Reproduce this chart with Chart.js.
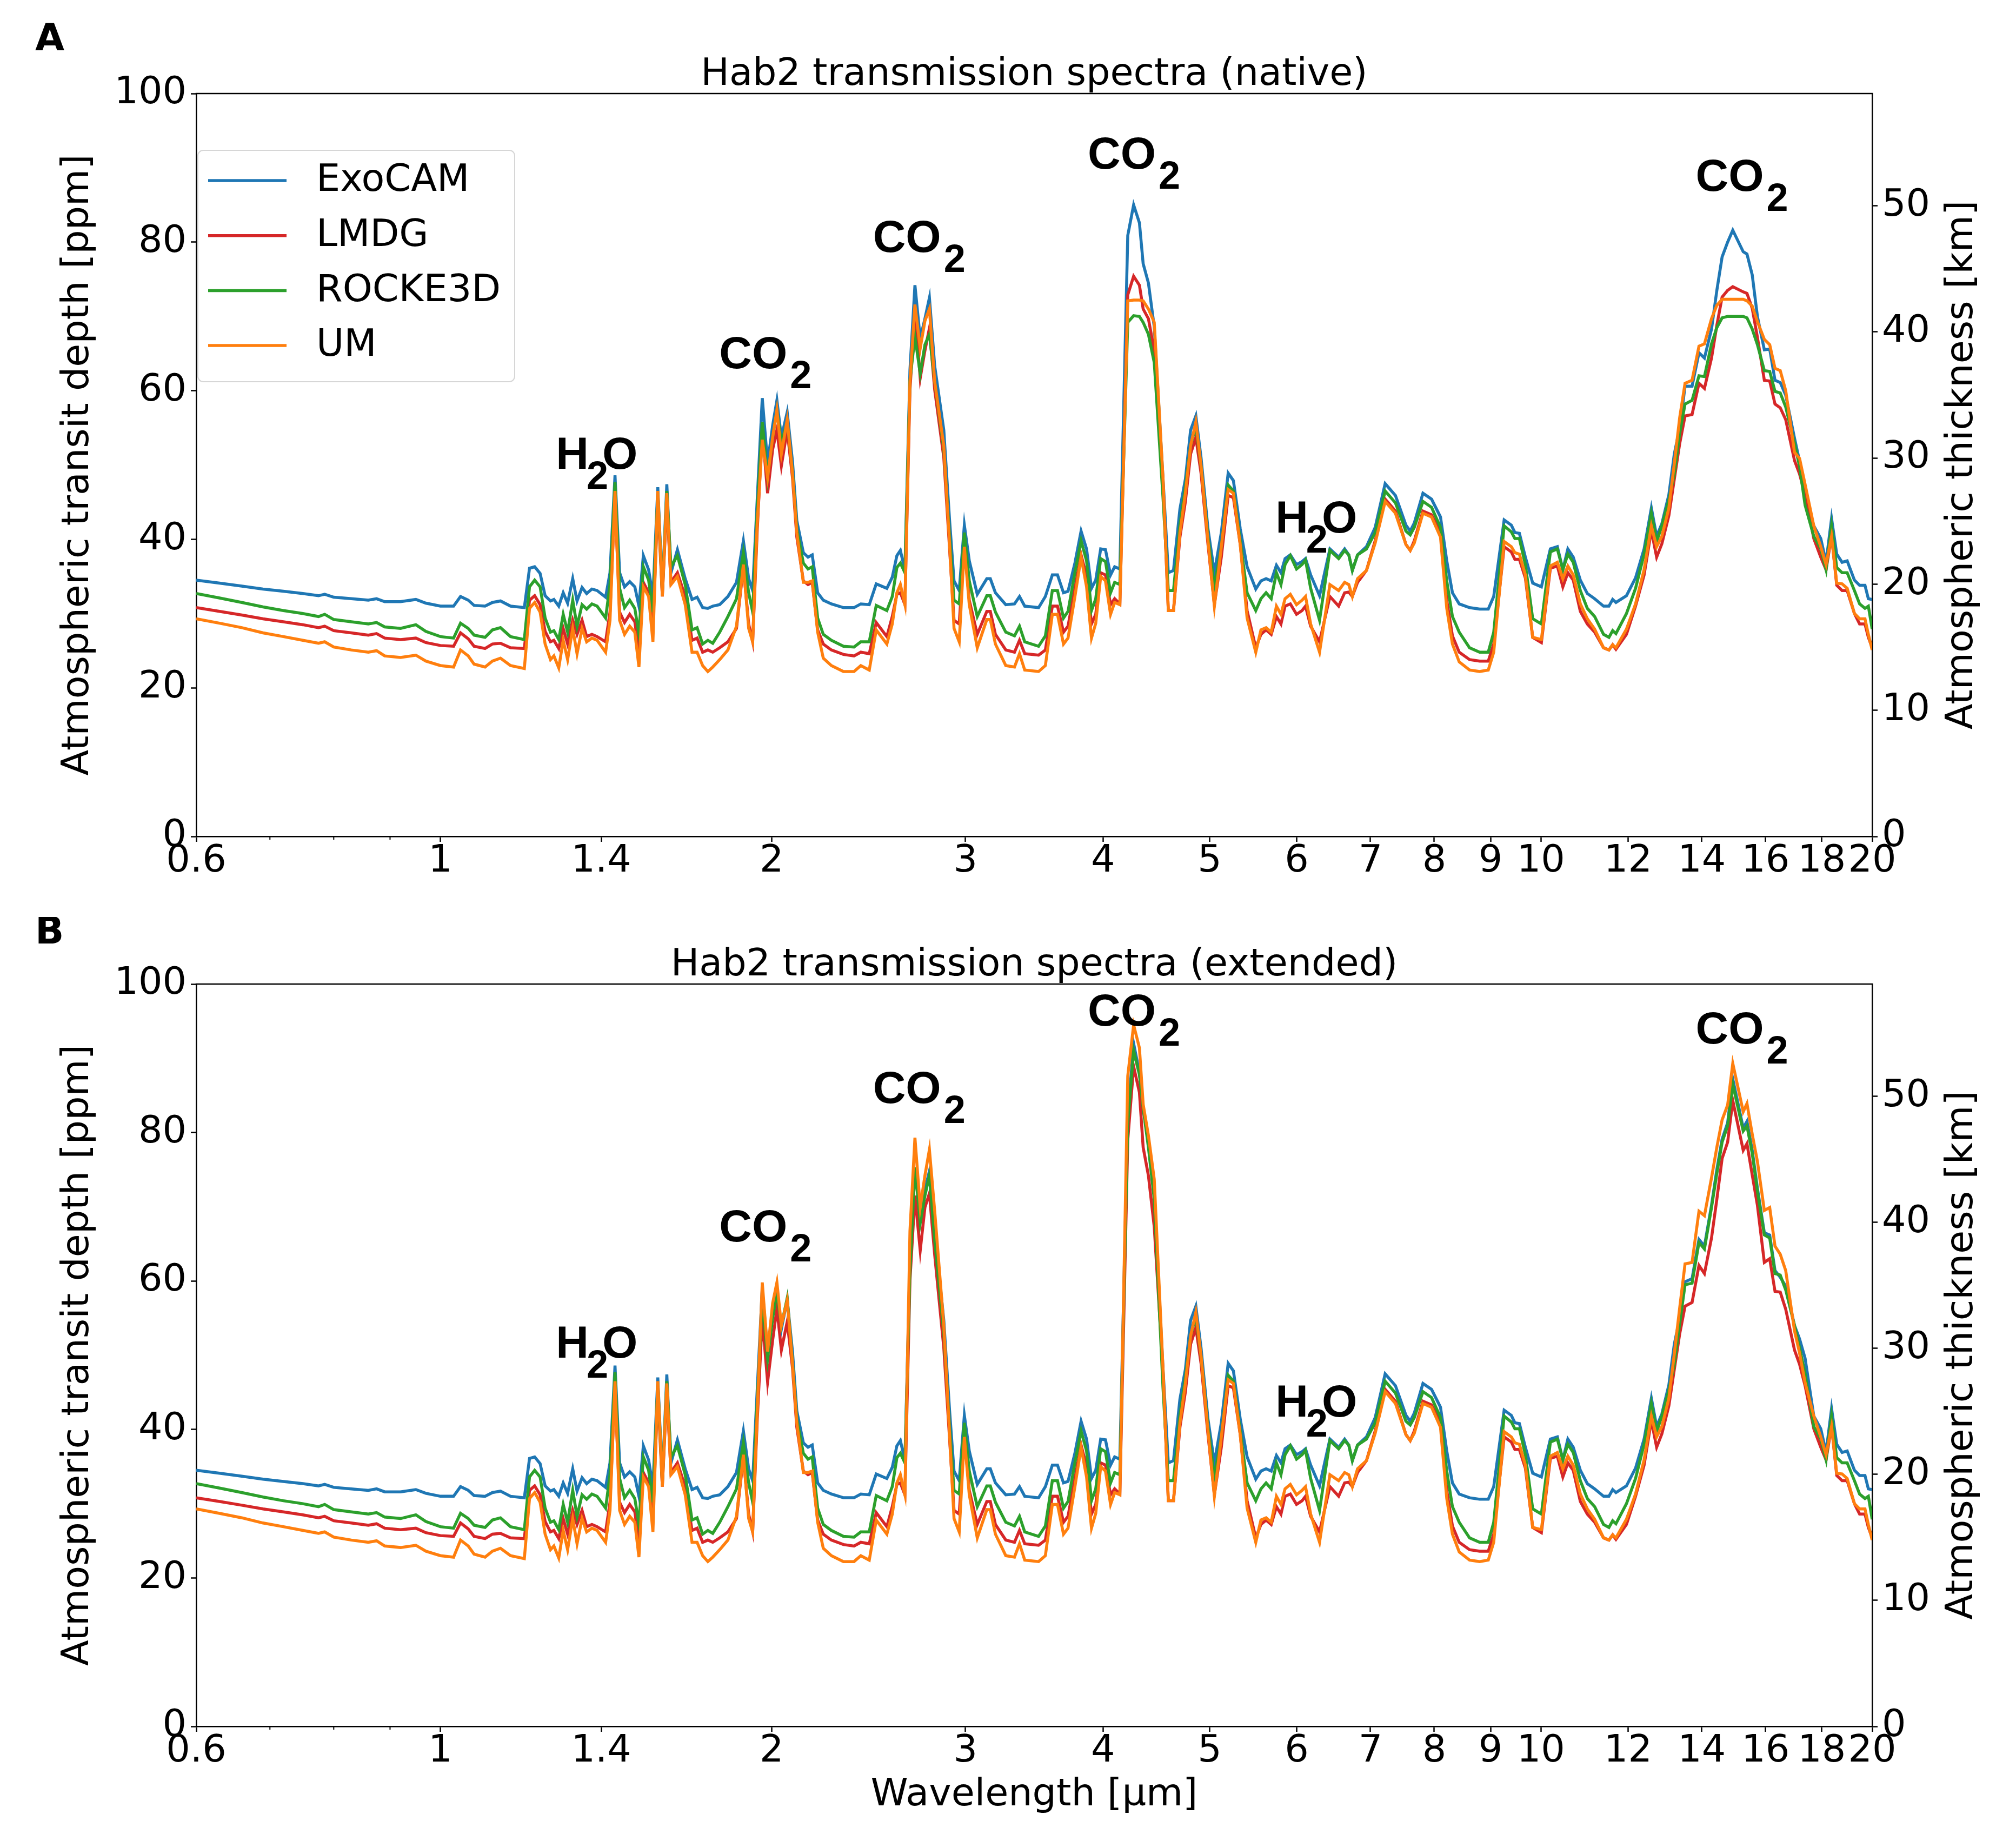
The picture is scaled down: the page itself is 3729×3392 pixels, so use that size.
<!DOCTYPE html>
<html>
<head>
<meta charset="utf-8">
<title>Hab2 transmission spectra</title>
<script src="https://cdn.jsdelivr.net/npm/chart.js@4.4.1/dist/chart.umd.min.js"></script>
<style>
  html, body { margin: 0; padding: 0; background: #fff; }
  #wrap { position: relative; width: 3729px; height: 3392px; background: #fff; }
  canvas { position: absolute; left: 0; }
</style>
</head>
<body>
<div id="wrap">
  <canvas id="chartA" width="3729" height="1696" style="top:0;width:3729px;height:1696px"></canvas>
  <canvas id="chartB" width="3729" height="1696" style="top:1696px;width:3729px;height:1696px"></canvas>
</div>
<script>
// Wavelength grid [µm], shared by every spectrum
const wavelength = [
  0.6, 0.63, 0.66, 0.69, 0.72, 0.75, 0.775, 0.785, 0.8, 0.83, 0.86, 0.875, 0.89, 0.92, 0.95, 0.97, 1.0, 1.028, 1.043, 1.06, 1.073, 1.098, 1.115, 1.134, 1.158, 1.192,
  1.205, 1.218, 1.232, 1.245, 1.259, 1.268, 1.281, 1.293, 1.305, 1.319,
  1.331, 1.345, 1.358, 1.373, 1.388, 1.413, 1.426, 1.441, 1.455, 1.470,
  1.486, 1.502, 1.515, 1.529, 1.546, 1.560, 1.576, 1.591, 1.606, 1.620,
  1.642, 1.669, 1.693, 1.711, 1.731, 1.750, 1.768, 1.794, 1.825, 1.858,
  1.885, 1.906, 1.922, 1.940, 1.961, 1.983, 2.004, 2.022, 2.041, 2.066,
  2.089, 2.108, 2.137, 2.158, 2.177, 2.202, 2.228, 2.266, 2.324, 2.376,
  2.410, 2.453, 2.489, 2.545, 2.574, 2.599, 2.618, 2.643, 2.671, 2.699,
  2.729, 2.756, 2.782, 2.813, 2.867, 2.902, 2.929, 2.961, 2.993, 3.024,
  3.075, 3.137, 3.16, 3.194, 3.264, 3.324, 3.359, 3.396, 3.496, 3.546,
  3.598, 3.637, 3.683, 3.718, 3.772, 3.821, 3.865, 3.905, 3.940, 3.981,
  4.021, 4.064, 4.099, 4.144, 4.213, 4.265, 4.317, 4.351, 4.399, 4.453,
  4.535, 4.586, 4.636, 4.699, 4.753, 4.805, 4.858, 4.911, 4.983, 5.050,
  5.124, 5.198, 5.255, 5.331, 5.408, 5.507, 5.567, 5.627, 5.688, 5.750,
  5.805, 5.855, 5.920, 5.997, 6.067, 6.111, 6.177, 6.293, 6.431, 6.550,
  6.632, 6.690, 6.740, 6.814, 6.942, 7.070, 7.219, 7.376, 7.540, 7.608,
  7.673, 7.813, 7.955, 8.105, 8.212, 8.310, 8.429, 8.613, 8.797, 8.957,
  9.060,
  9.26, 9.40, 9.47, 9.56, 9.68, 9.83, 10.01, 10.20, 10.35, 10.47,
  10.58, 10.70, 10.86, 11.02, 11.19, 11.40, 11.53, 11.62, 11.70, 11.96,
  12.19, 12.41, 12.60, 12.74, 12.88, 13.07, 13.22, 13.37, 13.52, 13.72,
  13.92, 14.08, 14.29, 14.45, 14.61, 14.78, 14.94, 15.27, 15.39, 15.56,
  15.73, 15.96, 16.14, 16.32, 16.50, 16.69, 17.00, 17.18, 17.38, 17.70,
  17.96, 18.16, 18.37, 18.57, 18.78, 18.98, 19.27, 19.48, 19.70, 19.84,
  20.0
];

// Panel A (native) transit depth [ppm]
const exocamA = [
  34.5, 34.1, 33.7, 33.3, 33.0, 32.7, 32.4, 32.6, 32.2, 32.0, 31.8, 32.0, 31.6, 31.6, 31.9, 31.4, 31.0, 31.0, 32.3, 31.8, 31.1, 31.0, 31.5, 31.7, 31.0, 30.8,
  36.1, 36.3, 35.4, 32.4, 31.7, 31.9, 31.0, 32.8, 31.4, 34.7,
  31.7, 33.5, 32.7, 33.3, 33.1, 32.2, 35.5, 48.6, 35.5, 33.6,
  34.3, 33.6, 31.0, 37.8, 35.9, 32.3, 47.0, 33.1, 47.4, 35.5,
  38.6, 34.7, 31.9, 32.2, 30.8, 30.7, 31.0, 31.2, 32.3, 34.2,
  39.8, 34.7, 33.1, 45.1, 59.0, 50.2, 55.3, 58.7, 53.7, 57.1,
  50.5, 42.5, 38.2, 37.6, 37.9, 32.8, 31.8, 31.3, 30.8, 30.8,
  31.3, 31.2, 34.0, 33.4, 34.9, 37.8, 38.5, 35.8, 62.8, 74.2,
  67.0, 69.7, 72.5, 63.3, 54.7, 42.5, 34.4, 33.1, 41.9, 37.1,
  32.6, 34.7, 34.7, 32.8, 31.2, 31.3, 32.3, 31.0, 30.8, 32.3,
  35.2, 35.2, 32.8, 33.0, 36.8, 41.1, 38.7, 33.4, 34.5, 38.7,
  38.6, 35.2, 36.3, 36.0, 80.9, 85.0, 82.6, 77.1, 74.5, 68.6,
  48.3, 35.5, 35.8, 44.1, 48.1, 54.7, 56.6, 51.0, 41.4, 35.5,
  40.9, 48.9, 47.9, 41.4, 36.3, 33.3, 34.4, 34.7, 34.4, 36.5,
  35.5, 37.4, 37.9, 36.6, 37.0, 37.4, 35.2, 32.4, 38.7, 37.6,
  38.7, 37.9, 35.8, 37.9, 39.0, 41.6, 47.5, 45.9, 41.9, 41.1,
  42.2, 46.2, 45.4, 43.0, 37.1, 32.8, 31.3, 30.8, 30.6, 30.6,
  32.3,
  42.6, 41.9, 40.9, 40.8, 37.6, 34.1, 33.6, 38.7, 39.0, 35.9,
  38.7, 37.6, 34.5, 32.7, 32.0, 31.0, 31.0, 31.9, 31.5, 32.4,
  34.8, 38.7, 44.2, 40.4, 42.1, 46.0, 51.5, 55.0, 60.6, 60.6,
  65.1, 64.4, 68.3, 73.5, 78.0, 80.0, 81.6, 78.7, 78.4, 75.6,
  70.0, 65.5, 65.6, 61.4, 61.1, 59.4, 53.6, 50.5, 46.0, 41.8,
  40.1, 36.9, 42.8, 38.0, 36.9, 37.1, 34.5, 33.8, 33.8, 32.0,
  31.9
];
const lmdgA = [
  30.8, 30.3, 29.8, 29.3, 28.9, 28.5, 28.1, 28.3, 27.7, 27.4, 27.1, 27.3, 26.7, 26.5, 26.7, 26.1, 25.7, 25.6, 27.4, 26.6, 25.6, 25.3, 25.9, 26.0, 25.4, 25.3,
  31.8, 32.4, 31.2, 27.6, 26.2, 26.4, 25.3, 28.0, 25.9, 29.1,
  27.2, 29.1, 26.9, 27.2, 26.9, 26.2, 30.2, 45.8, 30.2, 28.8,
  29.9, 28.9, 24.8, 34.2, 32.8, 28.0, 45.1, 32.3, 45.1, 34.2,
  35.5, 32.3, 26.4, 26.7, 24.8, 25.1, 24.8, 25.4, 26.2, 28.0,
  36.3, 28.6, 26.2, 40.9, 54.7, 46.2, 52.1, 54.7, 49.9, 54.7,
  48.3, 40.3, 34.4, 33.9, 34.2, 27.8, 25.9, 25.1, 24.5, 24.3,
  24.8, 24.6, 28.8, 26.9, 29.6, 32.6, 32.8, 31.2, 60.1, 70.8,
  61.7, 65.4, 68.4, 60.1, 51.0, 38.7, 29.1, 28.6, 39.3, 31.8,
  27.2, 30.3, 30.3, 27.2, 25.1, 24.8, 26.4, 24.6, 24.4, 25.1,
  31.0, 31.0, 27.5, 28.3, 33.4, 37.9, 35.0, 28.6, 29.9, 35.5,
  35.2, 31.2, 32.0, 31.3, 72.9, 75.4, 74.2, 71.0, 69.7, 65.4,
  48.0, 30.4, 30.4, 40.3, 45.1, 51.5, 53.7, 48.9, 39.3, 31.2,
  37.6, 45.9, 45.6, 39.3, 30.4, 25.4, 27.2, 27.8, 27.2, 29.6,
  28.6, 31.0, 31.3, 29.9, 30.4, 31.0, 28.3, 26.2, 32.3, 31.0,
  32.8, 32.9, 32.3, 34.2, 35.8, 39.8, 45.4, 43.8, 39.3, 38.5,
  39.8, 43.8, 43.3, 40.9, 31.8, 27.0, 24.8, 23.8, 23.6, 23.6,
  25.9,
  39.0, 38.3, 37.3, 37.3, 34.8, 26.8, 26.1, 36.1, 36.4, 33.6,
  35.5, 34.5, 30.3, 28.6, 27.5, 25.4, 25.1, 25.8, 25.2, 27.2,
  31.0, 35.2, 41.2, 37.6, 39.4, 43.2, 48.1, 52.9, 56.6, 56.8,
  61.0, 60.3, 64.4, 68.8, 72.6, 73.5, 74.0, 73.3, 73.1, 71.1,
  67.2, 61.4, 61.3, 58.2, 57.7, 56.1, 50.6, 48.8, 46.0, 40.1,
  37.6, 35.9, 40.5, 33.8, 33.1, 33.1, 30.0, 28.6, 28.6, 26.8,
  25.4
];
const rocke3dA = [
  32.7, 32.1, 31.5, 30.9, 30.4, 30.0, 29.6, 29.9, 29.2, 28.9, 28.6, 28.8, 28.2, 28.0, 28.5, 27.6, 26.9, 26.7, 28.7, 28.0, 27.1, 26.8, 27.8, 28.1, 26.9, 26.5,
  33.6, 34.5, 33.6, 29.4, 27.5, 27.7, 26.5, 29.9, 27.5, 31.8,
  28.3, 31.2, 30.6, 31.3, 31.0, 29.4, 33.9, 47.7, 33.4, 30.8,
  31.8, 30.7, 27.2, 36.3, 34.5, 30.2, 46.2, 32.8, 46.5, 36.3,
  37.8, 33.9, 27.8, 28.1, 25.9, 26.4, 26.0, 27.5, 29.6, 32.0,
  38.2, 32.8, 30.2, 43.5, 55.8, 48.3, 53.7, 57.4, 52.9, 55.8,
  49.1, 41.4, 36.8, 36.0, 36.3, 29.4, 27.2, 26.4, 25.6, 25.5,
  26.2, 26.2, 31.1, 30.4, 32.3, 36.2, 36.8, 35.5, 61.4, 67.3,
  62.3, 66.2, 67.6, 61.2, 52.1, 40.3, 31.8, 31.3, 40.9, 34.4,
  29.6, 32.4, 32.4, 30.2, 27.5, 27.0, 28.3, 26.2, 25.6, 27.0,
  33.1, 33.1, 29.4, 30.3, 35.5, 39.8, 37.1, 30.4, 32.0, 37.4,
  37.0, 32.8, 34.2, 33.9, 69.2, 70.1, 70.0, 69.2, 67.6, 63.8,
  45.7, 33.1, 33.1, 41.9, 47.0, 52.6, 55.3, 49.9, 40.3, 33.6,
  39.0, 47.3, 46.5, 39.8, 32.8, 30.4, 32.0, 32.8, 32.0, 35.5,
  33.9, 36.6, 37.8, 36.0, 36.6, 37.2, 33.4, 29.1, 38.5, 37.4,
  38.5, 37.9, 35.8, 37.9, 38.7, 40.9, 46.5, 44.9, 41.1, 40.6,
  41.6, 45.1, 44.3, 41.6, 34.4, 29.6, 27.5, 25.4, 24.8, 24.8,
  27.5,
  41.8, 41.0, 40.1, 40.1, 36.6, 29.3, 28.6, 38.3, 38.7, 35.9,
  38.0, 36.9, 33.1, 30.7, 29.6, 27.2, 26.8, 27.7, 27.3, 30.0,
  33.4, 38.0, 43.5, 39.7, 41.8, 45.3, 48.8, 54.3, 58.2, 58.7,
  62.0, 61.9, 66.3, 68.5, 69.8, 70.0, 70.0, 70.0, 69.8, 68.3,
  66.2, 62.7, 62.6, 59.9, 59.7, 57.8, 52.9, 49.8, 44.6, 40.4,
  38.7, 35.9, 41.8, 36.2, 35.5, 35.5, 33.1, 31.3, 30.7, 31.0,
  27.9
];
const umA = [
  29.3, 28.7, 28.1, 27.4, 26.9, 26.4, 26.0, 26.2, 25.5, 25.1, 24.8, 25.0, 24.3, 24.1, 24.4, 23.6, 23.0, 22.8, 25.1, 24.3, 23.2, 22.8, 23.6, 24.0, 23.0, 22.6,
  30.7, 31.5, 30.2, 25.9, 23.8, 24.3, 22.7, 26.4, 23.8, 28.0,
  24.6, 28.0, 26.2, 26.7, 26.4, 24.8, 29.1, 46.5, 29.1, 27.2,
  28.3, 27.5, 22.8, 33.6, 32.3, 26.2, 46.5, 32.3, 46.2, 33.9,
  35.0, 31.2, 24.8, 24.8, 23.0, 22.2, 22.8, 23.8, 25.1, 28.3,
  36.6, 28.0, 26.2, 41.9, 53.4, 48.3, 53.7, 57.4, 51.5, 56.1,
  48.9, 40.9, 34.2, 34.2, 34.4, 27.5, 24.0, 23.0, 22.2, 22.2,
  23.0, 22.4, 27.8, 25.9, 28.6, 32.8, 33.9, 31.2, 61.2, 71.6,
  65.7, 69.4, 71.0, 61.2, 52.6, 39.3, 28.0, 26.2, 39.0, 31.2,
  25.4, 29.2, 29.2, 25.9, 23.0, 22.8, 24.6, 22.4, 22.2, 23.0,
  29.9, 29.9, 25.9, 26.7, 32.3, 37.6, 33.6, 26.7, 28.7, 35.0,
  34.4, 29.9, 31.5, 31.2, 72.1, 72.2, 72.2, 72.1, 71.0, 69.2,
  48.3, 30.4, 30.4, 40.9, 46.2, 52.6, 55.8, 49.9, 39.8, 31.0,
  39.0, 46.7, 46.2, 39.3, 29.4, 24.8, 27.8, 28.1, 27.5, 31.0,
  29.9, 32.0, 32.6, 31.2, 31.8, 32.3, 28.6, 24.8, 33.9, 33.1,
  34.2, 33.9, 32.3, 34.7, 35.8, 39.5, 45.1, 43.5, 39.3, 38.5,
  39.5, 43.5, 43.0, 40.3, 30.7, 25.9, 23.5, 22.4, 22.2, 22.4,
  24.8,
  39.7, 39.0, 38.2, 38.0, 35.2, 26.8, 26.5, 36.4, 36.9, 34.7,
  36.4, 35.2, 31.3, 29.3, 27.9, 25.4, 25.1, 25.8, 25.4, 27.9,
  31.3, 35.9, 41.8, 39.0, 40.4, 44.2, 50.2, 56.4, 61.0, 61.4,
  66.0, 66.3, 69.7, 71.5, 72.3, 72.3, 72.3, 72.3, 72.1, 71.4,
  69.3, 66.9, 66.2, 63.0, 62.7, 60.0, 51.7, 50.9, 47.4, 41.8,
  39.0, 36.6, 40.4, 34.1, 34.0, 33.4, 30.0, 29.3, 29.3, 27.2,
  25.1
];

// Panel B (extended) transit depth [ppm]
const exocamB = [
  34.5, 34.1, 33.7, 33.3, 33.0, 32.7, 32.4, 32.6, 32.2, 32.0, 31.8, 32.0, 31.6, 31.6, 31.9, 31.4, 31.0, 31.0, 32.3, 31.8, 31.1, 31.0, 31.5, 31.7, 31.0, 30.8,
  36.1, 36.3, 35.4, 32.4, 31.7, 31.9, 31.0, 32.8, 31.4, 34.7,
  31.7, 33.5, 32.7, 33.3, 33.1, 32.2, 35.5, 48.6, 35.5, 33.6,
  34.3, 33.6, 31.0, 37.8, 35.9, 32.3, 47.0, 33.1, 47.4, 35.5,
  38.6, 34.7, 31.9, 32.2, 30.8, 30.7, 31.0, 31.2, 32.3, 34.2,
  39.8, 34.7, 33.1, 45.1, 59.0, 50.5, 55.5, 58.0, 53.5, 57.5,
  50.5, 42.5, 38.2, 37.6, 37.9, 32.8, 31.8, 31.3, 30.8, 30.8,
  31.3, 31.2, 34.0, 33.4, 34.9, 37.8, 38.5, 35.8, 62.8, 74.8,
  69.4, 72.3, 74.8, 66.7, 54.7, 42.5, 34.4, 33.1, 41.9, 37.1,
  32.6, 34.7, 34.7, 32.8, 31.2, 31.3, 32.3, 31.0, 30.8, 32.3,
  35.2, 35.2, 32.8, 33.0, 36.8, 41.1, 38.7, 33.4, 34.5, 38.7,
  38.6, 35.2, 36.3, 36.0, 82.0, 92.0, 88.1, 83.3, 78.5, 71.5,
  48.3, 35.5, 35.8, 44.1, 48.1, 54.7, 56.6, 51.0, 41.4, 35.5,
  40.9, 48.9, 47.9, 41.4, 36.3, 33.3, 34.4, 34.7, 34.4, 36.5,
  35.5, 37.4, 37.9, 36.6, 37.0, 37.4, 35.2, 32.4, 38.7, 37.6,
  38.7, 37.9, 35.8, 37.9, 39.0, 41.6, 47.5, 45.9, 41.9, 41.1,
  42.2, 46.2, 45.4, 43.0, 37.1, 32.8, 31.3, 30.8, 30.6, 30.6,
  32.3,
  42.6, 41.9, 40.9, 40.8, 37.6, 34.1, 33.6, 38.7, 39.0, 35.9,
  38.7, 37.6, 34.5, 32.7, 32.0, 31.0, 31.0, 31.9, 31.5, 32.4,
  34.8, 38.7, 44.2, 40.4, 42.1, 46.0, 51.5, 55.0, 59.9, 60.3,
  65.6, 64.7, 70.2, 75.0, 79.1, 81.3, 87.2, 80.6, 81.5, 77.6,
  72.5, 66.5, 66.2, 61.4, 60.5, 59.3, 54.0, 52.2, 49.6, 41.8,
  40.1, 36.9, 42.8, 38.0, 36.9, 37.1, 34.5, 33.8, 33.8, 32.0,
  31.9
];
const lmdgB = [
  30.8, 30.3, 29.8, 29.3, 28.9, 28.5, 28.1, 28.3, 27.7, 27.4, 27.1, 27.3, 26.7, 26.5, 26.7, 26.1, 25.7, 25.6, 27.4, 26.6, 25.6, 25.3, 25.9, 26.0, 25.4, 25.3,
  31.8, 32.4, 31.2, 27.6, 26.2, 26.4, 25.3, 28.0, 25.9, 29.1,
  27.2, 29.1, 26.9, 27.2, 26.9, 26.2, 30.2, 45.8, 30.2, 28.8,
  29.9, 28.9, 24.8, 34.2, 32.8, 28.0, 45.1, 32.3, 45.1, 34.2,
  35.5, 32.3, 26.4, 26.7, 24.8, 25.1, 24.8, 25.4, 26.2, 28.0,
  36.3, 28.6, 26.2, 40.9, 55.0, 46.4, 52.0, 56.3, 50.7, 54.5,
  48.3, 40.3, 34.4, 33.9, 34.2, 27.8, 25.9, 25.1, 24.5, 24.3,
  24.8, 24.6, 28.8, 26.9, 29.6, 32.6, 32.8, 31.2, 60.1, 71.5,
  64.1, 69.9, 71.8, 63.5, 51.0, 38.7, 29.1, 28.6, 39.3, 31.8,
  27.2, 30.3, 30.3, 27.2, 25.1, 24.8, 26.4, 24.6, 24.4, 25.1,
  31.0, 31.0, 27.5, 28.3, 33.4, 37.9, 35.0, 28.6, 29.9, 35.5,
  35.2, 31.2, 32.0, 31.3, 79.0, 88.9, 85.4, 78.0, 74.2, 67.3,
  48.0, 30.4, 30.4, 40.3, 45.1, 51.5, 53.7, 48.9, 39.3, 31.2,
  37.6, 45.9, 45.6, 39.3, 30.4, 25.4, 27.2, 27.8, 27.2, 29.6,
  28.6, 31.0, 31.3, 29.9, 30.4, 31.0, 28.3, 26.2, 32.3, 31.0,
  32.8, 32.9, 32.3, 34.2, 35.8, 39.8, 45.4, 43.8, 39.3, 38.5,
  39.8, 43.8, 43.3, 40.9, 31.8, 27.0, 24.8, 23.8, 23.6, 23.6,
  25.9,
  39.0, 38.3, 37.3, 37.3, 34.8, 26.8, 26.1, 36.1, 36.4, 33.6,
  35.5, 34.5, 30.3, 28.6, 27.5, 25.4, 25.1, 25.8, 25.2, 27.2,
  31.0, 35.2, 41.2, 37.6, 39.4, 43.2, 48.1, 52.9, 56.6, 57.1,
  62.1, 61.0, 65.8, 71.0, 76.5, 78.7, 84.3, 77.6, 78.5, 74.3,
  70.2, 62.5, 63.0, 58.6, 58.5, 56.2, 50.7, 48.8, 45.9, 40.1,
  37.6, 35.9, 40.5, 33.8, 33.1, 33.1, 30.0, 28.6, 28.6, 26.8,
  25.4
];
const rocke3dB = [
  32.7, 32.1, 31.5, 30.9, 30.4, 30.0, 29.6, 29.9, 29.2, 28.9, 28.6, 28.8, 28.2, 28.0, 28.5, 27.6, 26.9, 26.7, 28.7, 28.0, 27.1, 26.8, 27.8, 28.1, 26.9, 26.5,
  33.6, 34.5, 33.6, 29.4, 27.5, 27.7, 26.5, 29.9, 27.5, 31.8,
  28.3, 31.2, 30.6, 31.3, 31.0, 29.4, 33.9, 47.7, 33.4, 30.8,
  31.8, 30.7, 27.2, 36.3, 34.5, 30.2, 46.2, 32.8, 46.5, 36.3,
  37.8, 33.9, 27.8, 28.1, 25.9, 26.4, 26.0, 27.5, 29.6, 32.0,
  38.2, 32.8, 30.2, 43.5, 57.5, 49.5, 55.0, 58.5, 54.0, 57.7,
  49.1, 41.4, 36.8, 36.0, 36.3, 29.4, 27.2, 26.4, 25.6, 25.5,
  26.2, 26.2, 31.1, 30.4, 32.3, 36.2, 36.8, 35.5, 61.4, 75.3,
  67.8, 71.5, 74.2, 65.5, 53.0, 40.3, 31.8, 31.3, 40.9, 34.4,
  29.6, 32.4, 32.4, 30.2, 27.5, 27.0, 28.3, 26.2, 25.6, 27.0,
  33.1, 33.1, 29.4, 30.3, 35.5, 39.8, 37.1, 30.4, 32.0, 37.4,
  37.0, 32.8, 34.2, 33.9, 81.2, 91.0, 87.8, 83.3, 78.0, 71.0,
  45.7, 33.1, 33.1, 41.9, 47.0, 52.6, 55.3, 49.9, 40.3, 33.6,
  39.0, 47.3, 46.5, 39.8, 32.8, 30.4, 32.0, 32.8, 32.0, 35.5,
  33.9, 36.6, 37.8, 36.0, 36.6, 37.2, 33.4, 29.1, 38.5, 37.4,
  38.5, 37.9, 35.8, 37.9, 38.7, 40.9, 46.5, 44.9, 41.1, 40.6,
  41.6, 45.1, 44.3, 41.6, 34.4, 29.6, 27.5, 25.4, 24.8, 24.8,
  27.5,
  41.8, 41.0, 40.1, 40.1, 36.6, 29.3, 28.6, 38.3, 38.7, 35.9,
  38.0, 36.9, 33.1, 30.7, 29.6, 27.2, 26.8, 27.7, 27.3, 30.0,
  33.4, 38.0, 43.5, 39.7, 41.8, 45.3, 48.8, 54.3, 59.5, 59.7,
  65.2, 64.3, 69.9, 74.5, 78.7, 80.9, 86.5, 80.2, 80.9, 77.2,
  72.1, 66.2, 65.8, 61.0, 60.8, 58.8, 54.0, 51.0, 47.5, 40.4,
  38.7, 35.9, 41.8, 36.2, 35.5, 35.5, 33.1, 31.3, 30.7, 31.0,
  27.9
];
const umB = [
  29.3, 28.7, 28.1, 27.4, 26.9, 26.4, 26.0, 26.2, 25.5, 25.1, 24.8, 25.0, 24.3, 24.1, 24.4, 23.6, 23.0, 22.8, 25.1, 24.3, 23.2, 22.8, 23.6, 24.0, 23.0, 22.6,
  30.7, 31.5, 30.2, 25.9, 23.8, 24.3, 22.7, 26.4, 23.8, 28.0,
  24.6, 28.0, 26.2, 26.7, 26.4, 24.8, 29.1, 46.5, 29.1, 27.2,
  28.3, 27.5, 22.8, 33.6, 32.3, 26.2, 46.5, 32.3, 46.2, 33.9,
  35.0, 31.2, 24.8, 24.8, 23.0, 22.2, 22.8, 23.8, 25.1, 28.3,
  36.6, 28.0, 26.2, 41.9, 59.8, 50.5, 57.0, 59.8, 54.0, 57.4,
  48.9, 40.9, 34.2, 34.2, 34.4, 27.5, 24.0, 23.0, 22.2, 22.2,
  23.0, 22.4, 27.8, 25.9, 28.6, 32.8, 33.9, 31.2, 66.7, 79.3,
  69.9, 74.2, 77.7, 69.4, 54.0, 39.3, 28.0, 26.2, 39.0, 31.2,
  25.4, 29.2, 29.2, 25.9, 23.0, 22.8, 24.6, 22.4, 22.2, 23.0,
  29.9, 29.9, 25.9, 26.7, 32.3, 37.6, 33.6, 26.7, 28.7, 35.0,
  34.4, 29.9, 31.5, 31.2, 87.6, 94.5, 91.4, 83.8, 79.6, 73.7,
  48.3, 30.4, 30.4, 40.9, 46.2, 52.6, 55.8, 49.9, 39.8, 31.0,
  39.0, 46.7, 46.2, 39.3, 29.4, 24.8, 27.8, 28.1, 27.5, 31.0,
  29.9, 32.0, 32.6, 31.2, 31.8, 32.3, 28.6, 24.8, 33.9, 33.1,
  34.2, 33.9, 32.3, 34.7, 35.8, 39.5, 45.1, 43.5, 39.3, 38.5,
  39.5, 43.5, 43.0, 40.3, 30.7, 25.9, 23.5, 22.4, 22.2, 22.4,
  24.8,
  39.7, 39.0, 38.2, 38.0, 35.2, 26.8, 26.5, 36.4, 36.9, 34.7,
  36.4, 35.2, 31.3, 29.3, 27.9, 25.4, 25.1, 25.8, 25.4, 27.9,
  31.3, 35.9, 41.8, 39.0, 40.4, 44.2, 50.2, 56.4, 62.3, 62.5,
  69.4, 68.8, 73.9, 78.0, 81.7, 83.7, 89.3, 82.8, 83.9, 79.8,
  76.1, 69.5, 69.9, 64.7, 63.6, 61.4, 53.3, 50.3, 46.3, 41.8,
  39.0, 36.6, 40.4, 34.1, 34.0, 33.4, 30.0, 29.3, 29.3, 27.2,
  25.1
];

// Axis ticks and names
const seriesNames = ['ExoCAM', 'LMDG', 'ROCKE3D', 'UM'];
const xTicks = [0.6, 1, 1.4, 2, 3, 4, 5, 6, 7, 8, 9, 10, 12, 14, 16, 18, 20];
const xMinorTicks = [0.7, 0.8, 0.9];
const ppmTicks = [0, 20, 40, 60, 80, 100];
const kmTicks = [0, 10, 20, 30, 40, 50];

// Molecule labels (anchor in data units: wavelength, ppm)
const labelsA = [
  {text: 'H2O', x: 1.387, y: 49.5},
  {text: 'CO2', x: 1.974, y: 63.0},
  {text: 'CO2', x: 2.723, y: 78.7},
  {text: 'CO2', x: 4.268, y: 89.9},
  {text: 'H2O', x: 6.25, y: 40.9},
  {text: 'CO2', x: 15.23, y: 86.9}
];
const labelsB = [
  {text: 'H2O', x: 1.387, y: 49.7},
  {text: 'CO2', x: 1.974, y: 65.3},
  {text: 'CO2', x: 2.723, y: 84.0},
  {text: 'CO2', x: 4.268, y: 94.4},
  {text: 'H2O', x: 6.25, y: 41.7},
  {text: 'CO2', x: 15.23, y: 92.0}
];

const colors = ['#1f77b4', '#d62728', '#2ca02c', '#ff7f0e'];
const FONT = '"DejaVu Sans", sans-serif';
const FSIZE = 70;

function buildDatasets(series) {
  return series.map((vals, i) => ({
    label: seriesNames[i],
    data: wavelength.map((w, k) => ({x: w, y: vals[k]})),
    borderColor: colors[i],
    backgroundColor: colors[i],
    borderWidth: 5.5,
    pointRadius: 0,
    fill: false,
    tension: 0,
    order: 4 - i
  }));
}

function tickGrid() {
  return {display: true, drawOnChartArea: false, drawTicks: true, tickLength: 10, tickWidth: 2.5, tickColor: '#000'};
}

function makeScales(showXTitle, xAxisH) {
  return {
    x: {
      type: 'logarithmic', min: 0.6, max: 20,
      afterBuildTicks: s => { s.ticks = xTicks.map(v => ({value: v})); },
      afterFit: s => { s.height = xAxisH; },
      ticks: {font: {family: FONT, size: FSIZE, lineHeight: 1}, color: '#000', padding: 2, autoSkip: false,
              maxRotation: 0, minRotation: 0, callback: v => String(v)},
      grid: tickGrid(),
      border: {display: true, color: '#000', width: 2.5},
      title: {display: showXTitle, text: 'Wavelength [µm]', color: '#000',
              font: {family: FONT, size: FSIZE}, padding: {top: 0, bottom: 29}}
    },
    y: {
      type: 'linear', position: 'left', min: 0, max: 100,
      afterBuildTicks: s => { s.ticks = ppmTicks.map(v => ({value: v})); },
      afterFit: s => { s.width = 363; },
      ticks: {font: {family: FONT, size: FSIZE}, color: '#000', padding: 8},
      grid: tickGrid(),
      border: {display: true, color: '#000', width: 2.5},
      title: {display: true, text: 'Atmospheric transit depth [ppm]', color: '#000',
              font: {family: FONT, size: FSIZE}, padding: {top: 103, bottom: 0}}
    },
    y2: {
      type: 'linear', position: 'right', min: 0, max: 58.9,
      afterBuildTicks: s => { s.ticks = kmTicks.map(v => ({value: v})); },
      afterFit: s => { s.width = 266; },
      ticks: {font: {family: FONT, size: FSIZE}, color: '#000', padding: 8},
      grid: tickGrid(),
      border: {display: true, color: '#000', width: 2.5},
      title: {display: false}
    }
  };
}

// Draw a chemical formula with a subscript digit, centred on cx, main baseline at by
function drawFormula(ctx, text, cx, by) {
  const mainFont = 'bold 84px "Liberation Sans", Arial, sans-serif';
  const subFont = 'bold 72px "Liberation Sans", Arial, sans-serif';
  const parts = text === 'H2O'
    ? [{t: 'H', dx: 0}, {t: '2', sub: true, dx: -4}, {t: 'O', dx: -11}]
    : [{t: 'CO', dx: 0}, {t: '2', sub: true, dx: 5}];
  let total = 0;
  parts.forEach(p => {
    ctx.font = p.sub ? subFont : mainFont;
    p.w = ctx.measureText(p.t).width;
    total += p.dx + p.w;
  });
  let x = cx - total / 2;
  ctx.fillStyle = '#000';
  ctx.textAlign = 'left';
  ctx.textBaseline = 'alphabetic';
  parts.forEach(p => {
    x += p.dx;
    ctx.font = p.sub ? subFont : mainFont;
    ctx.fillText(p.t, x, p.sub ? by + 37 : by);
    x += p.w;
  });
}

function drawLegend(ctx, ca) {
  const x0 = ca.left + 3, y0 = ca.top + 105, w = 586, h = 428;
  ctx.save();
  ctx.beginPath();
  if (ctx.roundRect) ctx.roundRect(x0, y0, w, h, 10); else ctx.rect(x0, y0, w, h);
  ctx.fillStyle = 'rgba(255,255,255,0.8)';
  ctx.fill();
  ctx.strokeStyle = 'rgba(204,204,204,0.8)';
  ctx.lineWidth = 2;
  ctx.stroke();
  ctx.font = FSIZE + 'px ' + FONT;
  ctx.textAlign = 'left';
  ctx.textBaseline = 'middle';
  seriesNames.forEach((name, i) => {
    const ly = y0 + 56 + i * 101.7;
    ctx.strokeStyle = colors[i];
    ctx.lineWidth = 5.5;
    ctx.beginPath();
    ctx.moveTo(x0 + 19, ly);
    ctx.lineTo(x0 + 164, ly);
    ctx.stroke();
    ctx.fillStyle = '#000';
    ctx.fillText(name, x0 + 219, ly + 1);
  });
  ctx.restore();
}

function makeDecor(panel) {
  return {
    id: 'decor' + panel.letter,
    afterDraw(chart) {
      const ctx = chart.ctx;
      const ca = chart.chartArea;
      const xs = chart.scales.x, ys = chart.scales.y;
      ctx.save();
      // top spine
      ctx.strokeStyle = '#000';
      ctx.lineWidth = 2.5;
      ctx.beginPath();
      ctx.moveTo(ca.left - 1.25, ca.top);
      ctx.lineTo(ca.right + 1.25, ca.top);
      ctx.stroke();
      // minor x ticks
      ctx.lineWidth = 2;
      xMinorTicks.forEach(v => {
        const px = xs.getPixelForValue(v);
        ctx.beginPath();
        ctx.moveTo(px, ca.bottom);
        ctx.lineTo(px, ca.bottom + 6);
        ctx.stroke();
      });
      // title
      ctx.fillStyle = '#000';
      ctx.font = FSIZE + 'px ' + FONT;
      ctx.textAlign = 'center';
      ctx.textBaseline = 'alphabetic';
      ctx.fillText(panel.title, (ca.left + ca.right) / 2, ca.top - 16);
      // panel letter
      ctx.font = 'bold 70px ' + FONT;
      ctx.textAlign = 'left';
      ctx.fillText(panel.letter, 65, panel.letterY);
      // right axis title, reading upwards like matplotlib's twin axis label
      ctx.save();
      ctx.translate(3630, (ca.top + ca.bottom) / 2);
      ctx.rotate(-Math.PI / 2);
      ctx.font = FSIZE + 'px ' + FONT;
      ctx.textAlign = 'center';
      ctx.textBaseline = 'middle';
      ctx.fillText('Atmospheric thickness [km]', 0, 0);
      ctx.restore();
      // molecule labels
      panel.labels.forEach(l => {
        drawFormula(ctx, l.text, xs.getPixelForValue(l.x), ys.getPixelForValue(l.y));
      });
      if (panel.legend) drawLegend(ctx, ca);
      ctx.restore();
    }
  };
}

function makeChart(id, series, panel) {
  return new Chart(document.getElementById(id), {
    type: 'line',
    data: {datasets: buildDatasets(series)},
    options: {
      responsive: false,
      animation: false,
      devicePixelRatio: 1,
      events: [],
      layout: {padding: {top: panel.top, left: 0, right: 0, bottom: 0}},
      plugins: {legend: {display: false}, tooltip: {enabled: false}, title: {display: false}},
      scales: makeScales(panel.xTitle, panel.xAxisH)
    },
    plugins: [makeDecor(panel)]
  });
}

makeChart('chartA', [exocamA, lmdgA, rocke3dA, umA], {
  letter: 'A', letterY: 93, title: 'Hab2 transmission spectra (native)',
  top: 173, xAxisH: 149, xTitle: false, legend: true, labels: labelsA
});
makeChart('chartB', [exocamB, lmdgB, rocke3dB, umB], {
  letter: 'B', letterY: 49, title: 'Hab2 transmission spectra (extended)',
  top: 124, xAxisH: 199, xTitle: true, legend: false, labels: labelsB
});
</script>
</body>
</html>
